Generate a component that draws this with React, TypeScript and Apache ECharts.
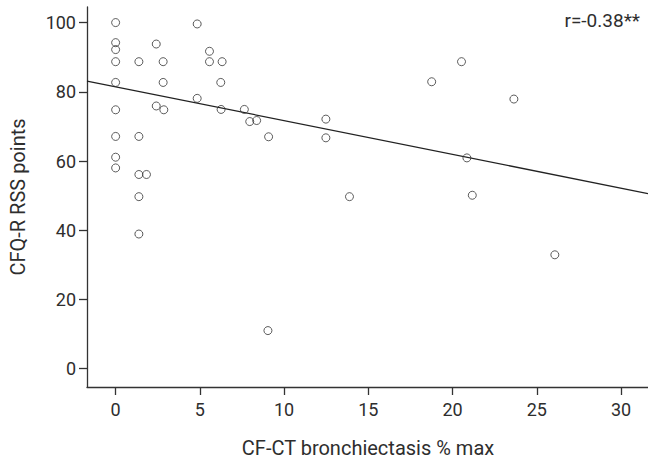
import React, { useEffect, useRef } from "react";
import * as echarts from "echarts";

// CF-CT bronchiectasis % max (x) vs CFQ-R RSS points (y)
const pointX = [
  0, 0, 0, 0, 0, 0, 0, 0, 0,
  1.38, 1.38, 1.38, 1.38, 1.38, 1.83,
  2.41, 2.41, 2.82, 2.82, 2.86,
  4.84, 4.84, 5.57, 5.57, 6.32, 6.24, 6.26,
  7.64, 7.96, 8.37, 9.08, 9.04,
  12.48, 12.48, 13.88, 18.76, 20.53, 20.85, 21.17, 23.64, 26.07,
];
const pointY = [
  100, 94.2, 92.2, 88.7, 82.7, 74.8, 67.1, 61.1, 58.0,
  88.7, 67.1, 56.1, 49.7, 38.9, 56.1,
  93.8, 75.9, 88.7, 82.7, 74.8,
  99.6, 78.1, 91.7, 88.7, 88.7, 82.7, 74.9,
  74.9, 71.4, 71.7, 67.0, 11.0,
  72.1, 66.7, 49.7, 82.9, 88.7, 60.9, 50.1, 77.9, 32.9,
];

// regression line end points
const fitX = [-1.7, 31.6];
const fitY = [83.1, 50.6];

const xTicks = [0, 5, 10, 15, 20, 25, 30];
const yTicks = [0, 20, 40, 60, 80, 100];

const xTitle = "CF-CT bronchiectasis % max";
const yTitle = "CFQ-R RSS points";
const corrText = "r=-0.38**";

const FONT = "Roboto";
const TEXT_COLOR = "#2e2e2e";
const AXIS_COLOR = "#333";

export default function App() {
  const ref = useRef<HTMLDivElement>(null);

  useEffect(() => {
    if (!ref.current) return;
    const chart = echarts.init(ref.current, undefined, { renderer: "svg" });
    const scatterData = pointX.map((x, i) => [x, pointY[i]]);
    const lineData = fitX.map((x, i) => [x, fitY[i]]);

    chart.setOption({
      animation: false,
      backgroundColor: "#fff",
      grid: { left: 87, top: 7, width: 562, height: 380, containLabel: false },
      xAxis: {
        type: "value",
        min: -1.7,
        max: 31.6,
        splitLine: { show: false },
        axisLine: { show: true, onZero: false, lineStyle: { color: AXIS_COLOR, width: 1.3 } },
        axisTick: {
          show: true,
          length: 8,
          customValues: xTicks,
          lineStyle: { color: AXIS_COLOR, width: 1.3 },
        },
        axisLabel: {
          customValues: xTicks,
          margin: 13,
          fontFamily: FONT,
          fontSize: 18,
          color: TEXT_COLOR,
        },
      },
      yAxis: {
        type: "value",
        min: -5.3,
        max: 104.5,
        splitLine: { show: false },
        axisLine: { show: true, onZero: false, lineStyle: { color: AXIS_COLOR, width: 1.3 } },
        axisTick: {
          show: true,
          length: 8,
          customValues: yTicks,
          lineStyle: { color: AXIS_COLOR, width: 1.3 },
        },
        axisLabel: {
          customValues: yTicks,
          margin: 11,
          fontFamily: FONT,
          fontSize: 18,
          color: TEXT_COLOR,
        },
      },
      graphic: [
        {
          type: "text",
          x: 368,
          y: 448,
          style: {
            text: xTitle,
            fontFamily: FONT,
            fontSize: 20,
            fill: TEXT_COLOR,
            textAlign: "center",
            textVerticalAlign: "middle",
          },
        },
        {
          type: "text",
          x: 18,
          y: 197,
          rotation: Math.PI / 2,
          style: {
            text: yTitle,
            fontFamily: FONT,
            fontSize: 20,
            fill: TEXT_COLOR,
            textAlign: "center",
            textVerticalAlign: "middle",
          },
        },
        {
          type: "text",
          x: 640,
          y: 20,
          style: {
            text: corrText,
            fontFamily: FONT,
            fontSize: 19,
            fill: TEXT_COLOR,
            textAlign: "right",
            textVerticalAlign: "middle",
          },
        },
      ],
      series: [
        {
          type: "line",
          data: lineData,
          symbol: "none",
          lineStyle: { color: "#222", width: 1.3 },
          silent: true,
          z: 1,
        },
        {
          type: "scatter",
          data: scatterData,
          symbol: "circle",
          symbolSize: 8,
          itemStyle: { color: "rgba(255,255,255,0)", borderColor: "#333", borderWidth: 1 },
          z: 2,
        },
      ],
    });

    return () => chart.dispose();
  }, []);

  return (
    <div
      ref={ref}
      style={{ position: "absolute", left: 0, top: 0, width: 648, height: 462 }}
    />
  );
}
